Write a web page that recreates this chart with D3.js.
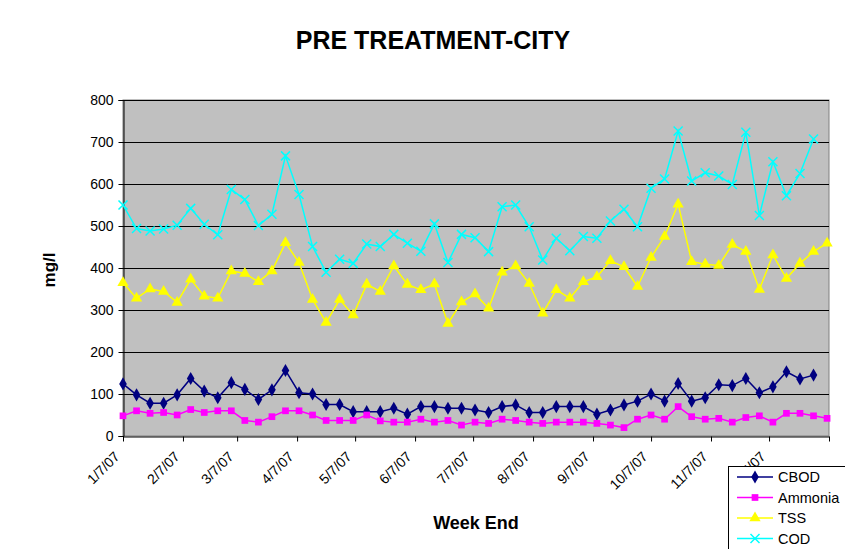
<!DOCTYPE html>
<html>
<head>
<meta charset="utf-8">
<script src="https://cdn.jsdelivr.net/npm/d3@7"></script>
<style>
  body { margin: 0; background: #fff; }
  text { font-family: Arial, "Liberation Sans", sans-serif; }
</style>
</head>
<body>
<script>
var weeks = ["1/7/07","1/14/07","1/21/07","1/28/07","2/4/07","2/11/07","2/18/07","2/25/07",
  "3/4/07","3/11/07","3/18/07","3/25/07","4/1/07","4/8/07","4/15/07","4/22/07","4/29/07",
  "5/6/07","5/13/07","5/20/07","5/27/07","6/3/07","6/10/07","6/17/07","6/24/07",
  "7/1/07","7/8/07","7/15/07","7/22/07","7/29/07","8/5/07","8/12/07","8/19/07","8/26/07",
  "9/2/07","9/9/07","9/16/07","9/23/07","9/30/07","10/7/07","10/14/07","10/21/07","10/28/07",
  "11/4/07","11/11/07","11/18/07","11/25/07","12/2/07","12/9/07","12/16/07","12/23/07","12/30/07","1/6/08"];

var cbod = [124, 98, 78, 78, 98, 137, 107, 91, 127,
  111, 87, 110, 156, 103, 100, 75, 75, 58,
  58, 58, 66, 52, 70, 70, 66, 66, 62,
  56, 70, 74, 56, 56, 70, 70, 70, 52,
  62, 74, 83, 100, 83, 125, 83, 91, 122,
  120, 137, 103, 117, 153, 136, 145];

var ammonia = [48, 60, 54, 56, 50, 63, 56, 60, 60,
  37, 33, 46, 60, 60, 50, 37, 37, 37,
  50, 36, 33, 33, 40, 33, 37, 26, 33,
  30, 40, 37, 33, 30, 33, 33, 33, 30,
  26, 20, 40, 50, 40, 70, 46, 40, 42,
  33, 44, 48, 33, 54, 54, 48, 42];

var tss = [365, 328, 350, 344, 318, 373, 333, 328, 393,
  387, 367, 393, 460, 413, 325, 270, 325, 288,
  361, 344, 405, 361, 348, 362, 268, 319, 338,
  304, 390, 405, 363, 292, 348, 328, 367, 379,
  417, 403, 356, 425, 475, 552, 415, 409, 406,
  456, 439, 349, 431, 375, 411, 439, 459];

var cod = [550, 494, 488, 493, 502, 542, 504, 479, 587,
  563, 501, 528, 667, 575, 451, 390, 421, 411,
  457, 451, 480, 459, 440, 505, 413, 480, 472,
  439, 546, 550, 498, 419, 471, 441, 475, 471,
  512, 540, 498, 590, 612, 726, 607, 627, 619,
  599, 723, 525, 653, 572, 625, 707];

var monthTicks = ["1/7/07","2/7/07","3/7/07","4/7/07","5/7/07","6/7/07","7/7/07",
  "8/7/07","9/7/07","10/7/07","11/7/07","12/7/07","1/7/08"];
var yTicks = [0, 100, 200, 300, 400, 500, 600, 700, 800];

function main() {
    var width = 845, height = 549;
    var left = 123, right = 829, top = 100, bottom = 436;
    var font = "Arial, 'Liberation Sans', sans-serif";
    var parse = d3.utcParse("%m/%d/%y");

    var svg = d3.select("body").append("svg")
        .attr("width", width).attr("height", height);

    var x = d3.scaleUtc()
        .domain([parse("1/7/07"), parse("1/7/08")])
        .range([left, right]);
    var y = d3.scaleLinear().domain([0, 800]).range([bottom, top]);

    // plot area
    svg.append("rect")
        .attr("x", left).attr("y", top)
        .attr("width", right - left).attr("height", bottom - top)
        .attr("fill", "#c0c0c0").attr("stroke", "#808080").attr("stroke-width", 1);

    svg.append("g").selectAll("line")
        .data(yTicks.slice(1))
        .enter().append("line")
        .attr("x1", left).attr("x2", right)
        .attr("y1", function(d) { return Math.round(y(d)) + 0.5; })
        .attr("y2", function(d) { return Math.round(y(d)) + 0.5; })
        .attr("stroke", "#000").attr("stroke-width", 1);

    // axes
    var yAxis = svg.append("g")
        .attr("transform", "translate(" + (left + 0.5) + ",0)")
        .call(d3.axisLeft(y).tickValues(yTicks).tickSize(5).tickPadding(5));
    yAxis.selectAll("text").attr("font-size", "14px").attr("fill", "#000")
        .style("font-family", font);
    yAxis.selectAll("line, path").attr("stroke", "#000");

    var xAxis = svg.append("g")
        .attr("transform", "translate(0," + (bottom + 0.5) + ")")
        .call(d3.axisBottom(x)
            .tickValues(monthTicks.map(function(d) { return parse(d); }))
            .tickSize(5).tickSizeOuter(0)
            .tickFormat(function(d, i) { return i < 12 ? monthTicks[i] : ""; }));
    xAxis.selectAll("line, path").attr("stroke", "#000");
    xAxis.selectAll("text")
        .attr("font-size", "14px").attr("fill", "#000")
        .style("font-family", font)
        .attr("text-anchor", "end")
        .attr("x", 0).attr("y", 0).attr("dy", 0)
        .attr("transform", "translate(-3,21) rotate(-45)");

    var series = [
        { name: "CBOD", values: cbod, color: "#000080", shape: d3.symbolDiamond, size: 50 },
        { name: "Ammonia", values: ammonia, color: "#ff00ff", shape: d3.symbolSquare, size: 45 },
        { name: "TSS", values: tss, color: "#ffff00", shape: d3.symbolTriangle, size: 55 },
        { name: "COD", values: cod, color: "#00ffff", shape: "x", size: 0 }
    ];

    var line = d3.line()
        .x(function(d) { return x(parse(d.w)); })
        .y(function(d) { return y(d.v); });

    function drawMarker(g, s) {
        if (s.shape === "x") {
            g.append("path").attr("d", "M-4.5,-4.5L4.5,4.5M-4.5,4.5L4.5,-4.5")
                .attr("stroke", s.color).attr("stroke-width", 1.5).attr("fill", "none");
        } else {
            g.append("path").attr("d", d3.symbol().type(s.shape).size(s.size)())
                .attr("fill", s.color);
        }
    }

    series.forEach(function(s) {
        var pts = s.values.map(function(v, i) { return { w: weeks[i], v: v }; });
        svg.append("path").datum(pts)
            .attr("d", line)
            .attr("fill", "none").attr("stroke", s.color).attr("stroke-width", 1.5);
        svg.append("g").selectAll("g")
            .data(pts).enter().append("g")
            .attr("transform", function(d) {
                return "translate(" + x(parse(d.w)) + "," + y(d.v) + ")";
            })
            .each(function() { drawMarker(d3.select(this), s); });
    });

    // titles
    svg.append("text")
        .attr("x", 433).attr("y", 49)
        .attr("text-anchor", "middle")
        .attr("font-size", "25px").attr("font-weight", "bold")
        .text("PRE TREATMENT-CITY");
    svg.append("text")
        .attr("x", 476).attr("y", 529)
        .attr("text-anchor", "middle")
        .attr("font-size", "18px").attr("font-weight", "bold")
        .text("Week End");
    svg.append("text")
        .attr("transform", "translate(55,270) rotate(-90)")
        .attr("text-anchor", "middle")
        .attr("font-size", "17px").attr("font-weight", "bold")
        .text("mg/l");

    // legend
    var legend = svg.append("g").attr("transform", "translate(728,466)");
    legend.append("rect")
        .attr("x", 0.5).attr("y", 0.5).attr("width", 130).attr("height", 90)
        .attr("fill", "#fff").attr("stroke", "#000");
    series.forEach(function(s, i) {
        var row = legend.append("g").attr("transform", "translate(0," + (11 + i * 20.5) + ")");
        row.append("line").attr("x1", 9).attr("x2", 45)
            .attr("stroke", s.color).attr("stroke-width", 1.5);
        drawMarker(row.append("g").attr("transform", "translate(27,0)"), s);
        row.append("text").attr("x", 50).attr("y", 0).attr("dy", "0.36em")
            .attr("font-size", "14.5px").text(s.name);
    });
}

window.onload = main;
</script>
</body>
</html>
